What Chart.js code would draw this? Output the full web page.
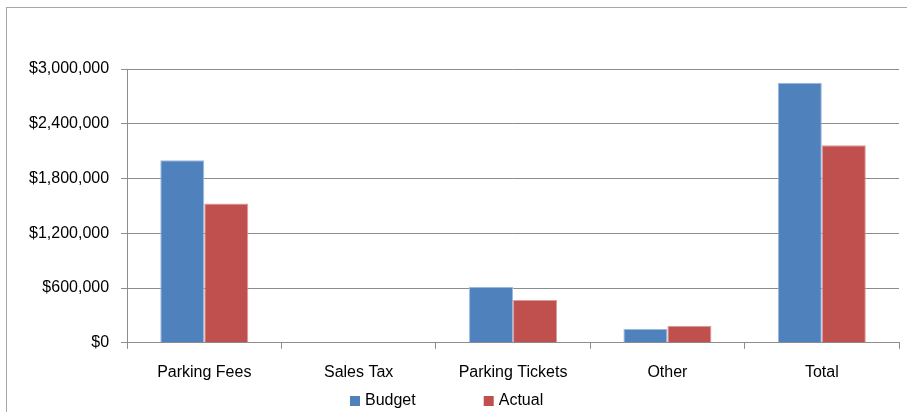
<!DOCTYPE html>
<html>
<head>
<meta charset="utf-8">
<script src="https://cdn.jsdelivr.net/npm/chart.js@4.4.1/dist/chart.umd.min.js"></script>
<style>
  html, body { margin: 0; padding: 0; background: #fff; }
  #wrap { width: 907px; height: 412px; position: relative; }
</style>
</head>
<body>
<div id="wrap"><canvas id="revenue-chart" width="907" height="412"></canvas></div>
<script>
// Revenue sources, budget vs actual
const categories = ['Parking Fees', 'Sales Tax', 'Parking Tickets', 'Other', 'Total'];
const budgetValues = [2000000, 0, 615000, 150000, 2850000];
const actualValues = [1525000, 0, 470000, 187000, 2165000];
const yTicks = [0, 600000, 1200000, 1800000, 2400000, 3000000];

const FONT = 'Liberation Sans, Arial, sans-serif';
const FONT_SIZE = 16;
const AXIS_GRAY = '#8c8c8c';

// thin frame round the whole chart (right and bottom run off the canvas)
const framePlugin = {
    id: 'frame',
    beforeDraw(chart) {
        const ctx = chart.ctx;
        ctx.save();
        ctx.strokeStyle = '#a6a6a6';
        ctx.lineWidth = 1;
        ctx.strokeRect(6.5, 7.5, chart.width + 10, chart.height + 10);
        ctx.restore();
    }
};

// simple legend row under the x labels, built from the datasets
const bottomLegend = {
    id: 'bottomLegend',
    afterDraw(chart) {
        const ctx = chart.ctx;
        const sets = chart.data.datasets;
        const box = 10, gapText = 5, gapItem = 68;
        ctx.save();
        ctx.font = FONT_SIZE + 'px ' + FONT;
        ctx.textBaseline = 'middle';
        const widths = sets.map(ds => box + gapText + ctx.measureText(ds.label).width);
        const total = widths.reduce((a, b) => a + b, 0) + gapItem * (sets.length - 1);
        let x = Math.round(chart.width / 2 - 7 - total / 2);
        const y = 401;
        sets.forEach((ds, i) => {
            ctx.fillStyle = ds.backgroundColor;
            ctx.fillRect(x, y - 5, box, box);
            ctx.fillStyle = '#000';
            ctx.fillText(ds.label, x + box + gapText, y);
            x += widths[i] + gapItem;
        });
        ctx.restore();
    }
};

function formatMoney(v) {
    return '$' + v.toLocaleString('en-US');
}

function createRevenueChart() {
    const ctx = document.getElementById('revenue-chart').getContext('2d');

    new Chart(ctx, {
        type: 'bar',
        data: {
            labels: categories,
            datasets: [{
                label: 'Budget',
                data: budgetValues,
                backgroundColor: '#4f81bd',
                borderColor: '#9bb9de',
                borderWidth: 1,
                barPercentage: 1.0,
                categoryPercentage: 0.57
            }, {
                label: 'Actual',
                data: actualValues,
                backgroundColor: '#c0504d',
                borderColor: '#dc9a98',
                borderWidth: 1,
                barPercentage: 1.0,
                categoryPercentage: 0.57
            }]
        },
        options: {
            responsive: false,
            animation: false,
            layout: {
                padding: { top: 69, right: 8, left: 17, bottom: 16 }
            },
            plugins: {
                legend: { display: false },
                tooltip: { enabled: false }
            },
            scales: {
                y: {
                    min: 0,
                    max: 3000000,
                    afterBuildTicks(axis) {
                        axis.ticks = yTicks.map(v => ({ value: v }));
                    },
                    border: { display: true, color: AXIS_GRAY, width: 1 },
                    grid: {
                        color: AXIS_GRAY,
                        lineWidth: 1,
                        drawTicks: true,
                        tickLength: 6
                    },
                    ticks: {
                        color: '#000',
                        padding: 12,
                        font: { family: FONT, size: FONT_SIZE }
                    }
                },
                x: {
                    offset: true,
                    border: { display: true, color: AXIS_GRAY, width: 1 },
                    grid: {
                        offset: true,
                        drawOnChartArea: false,
                        drawTicks: true,
                        tickLength: 6,
                        color: AXIS_GRAY
                    },
                    ticks: {
                        color: '#000',
                        padding: 14,
                        maxRotation: 0,
                        font: { family: FONT, size: FONT_SIZE }
                    }
                }
            }
        },
        plugins: [framePlugin, bottomLegend]
    });
}

// y labels as currency
Chart.defaults.scales.linear.ticks.callback = function(value) {
    return formatMoney(value);
};

createRevenueChart();
</script>
</body>
</html>
